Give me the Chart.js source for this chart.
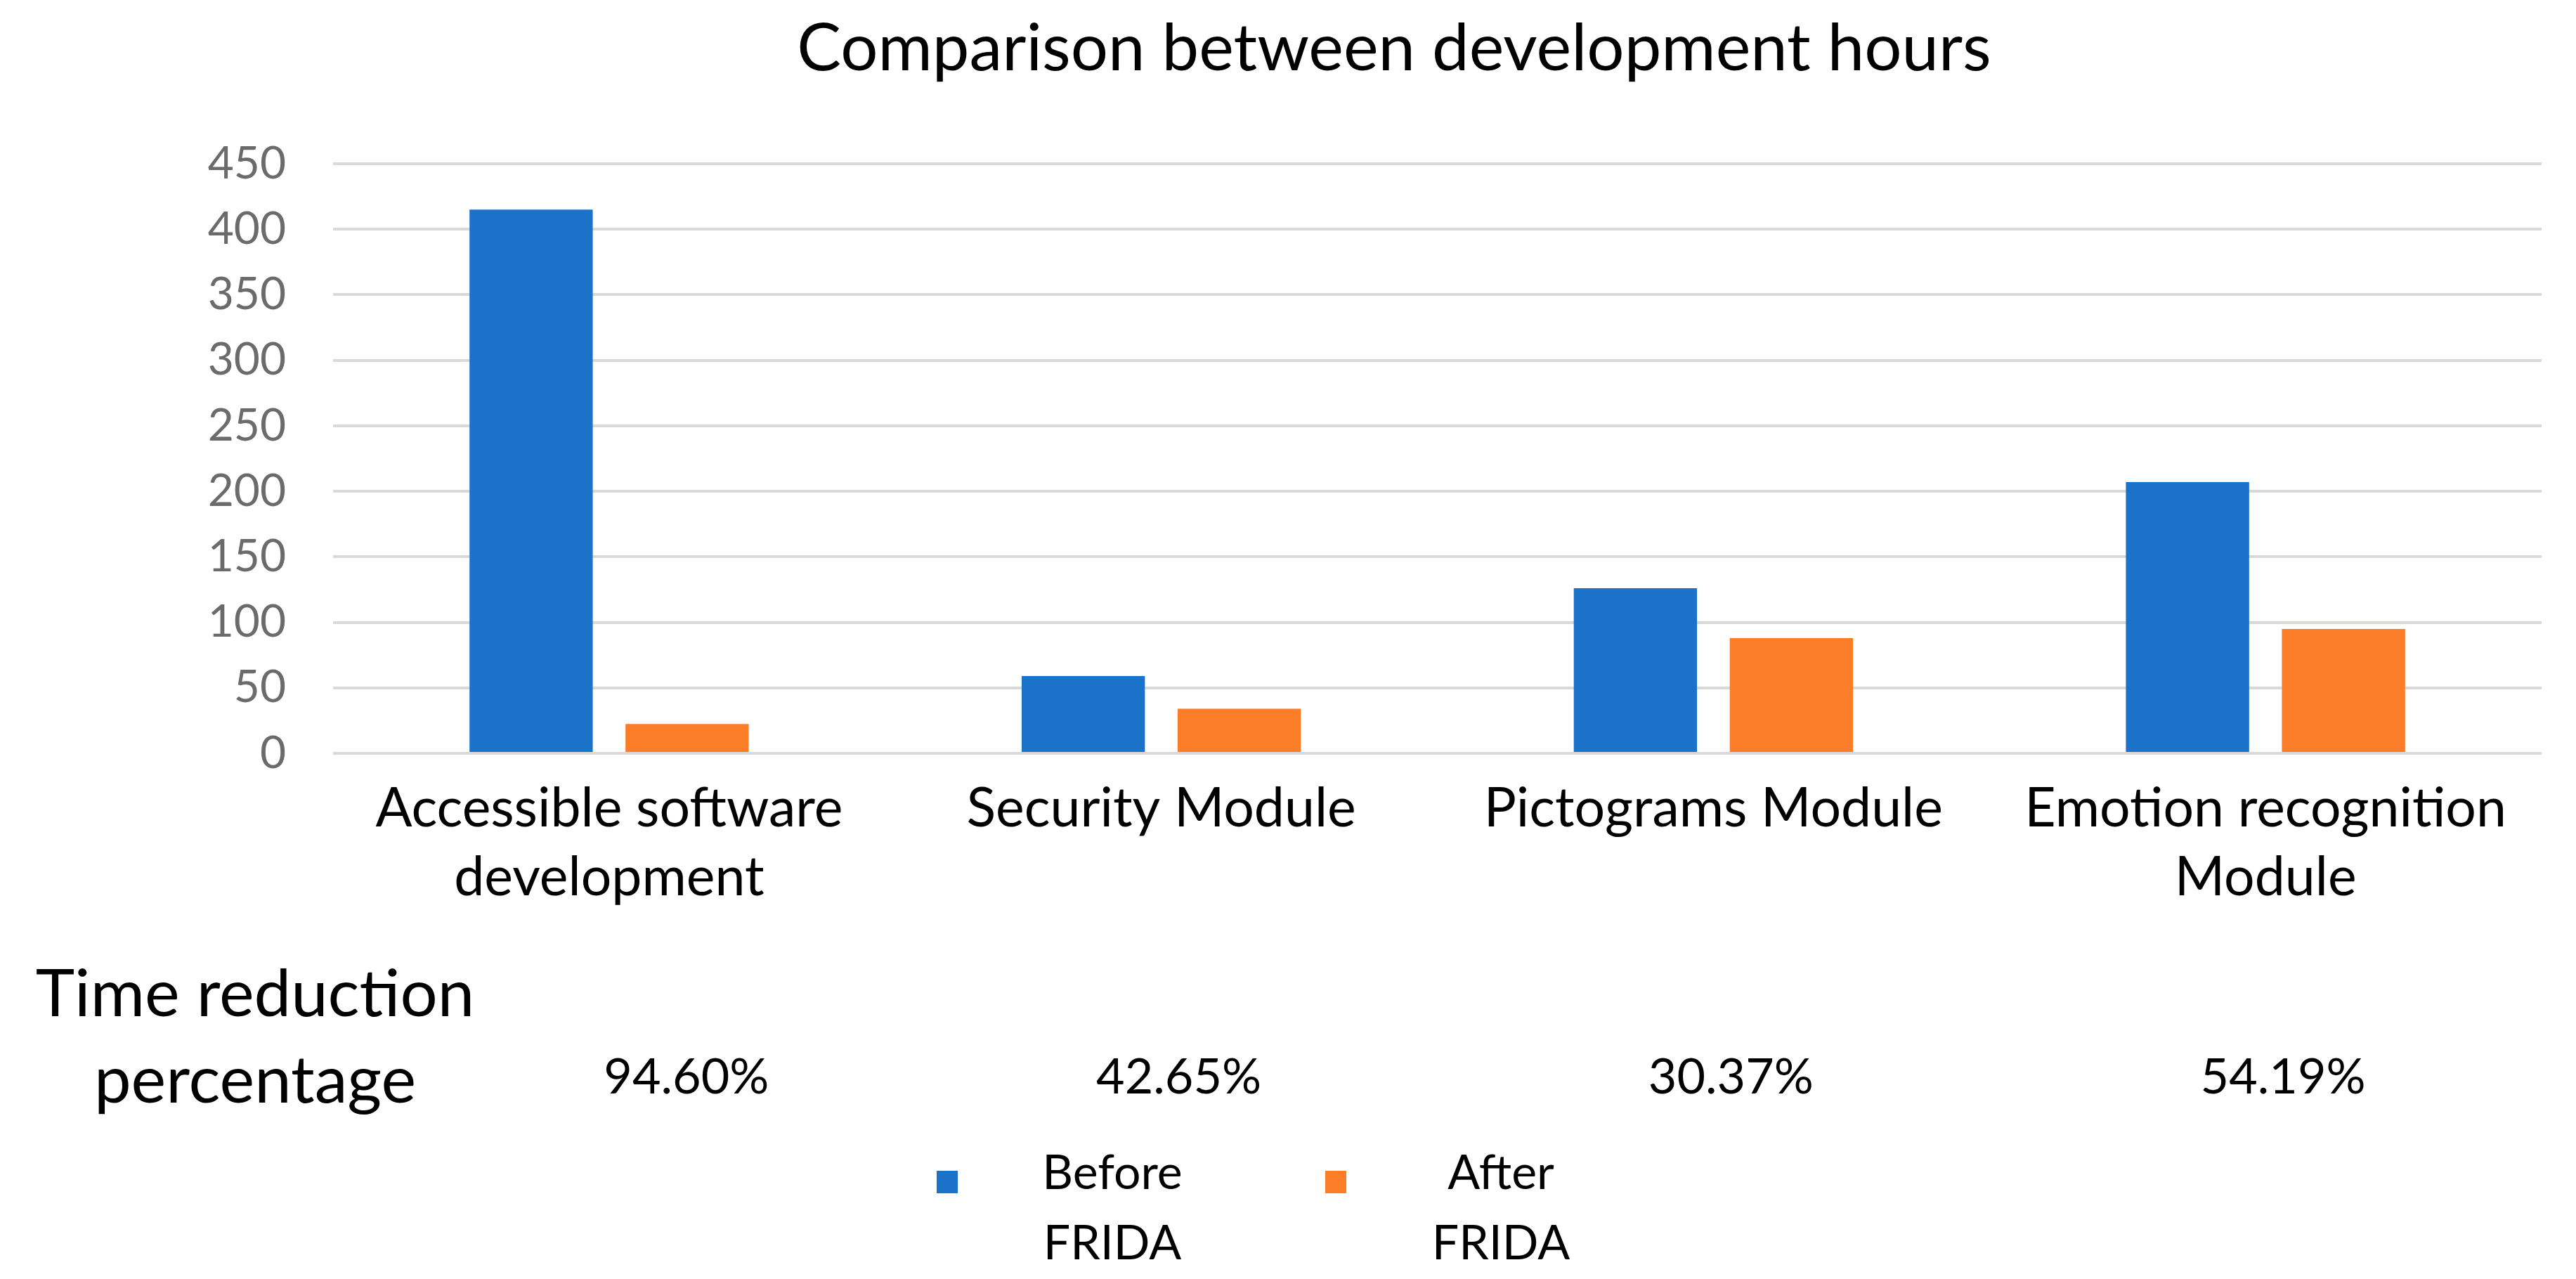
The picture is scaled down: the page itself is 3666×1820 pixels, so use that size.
<!DOCTYPE html>
<html>
<head>
<meta charset="utf-8">
<script src="https://cdn.jsdelivr.net/npm/chart.js@4.4.1/dist/chart.umd.min.js"></script>
<style>
  html, body { margin: 0; padding: 0; background: #fff; }
  #wrap { width: 3666px; height: 1820px; position: relative; }
</style>
</head>
<body>
<div id="wrap"><canvas id="horasChart"></canvas></div>
<script>
// datos del gráfico
const categorias = [
    ["Accessible software", "development"],
    "Security Module",
    "Pictograms Module",
    ["Emotion recognition", "Module"]
];
const horasAntes = [415, 59, 126, 207];     // Before FRIDA
const horasDespues = [22.4, 34, 88, 95];    // After FRIDA
const reduccion = ["94.60%", "42.65%", "30.37%", "54.19%"];
const etiquetasSeries = ["Before FRIDA", "After FRIDA"];
const coloresSeries = ["#1b72c9", "#fb7d27"];
const ticksY = [0, 50, 100, 150, 200, 250, 300, 350, 400, 450];

const titulo = "Comparison between development hours";
const tituloFila = ["Time reduction", "percentage"];

const FUENTE = "Lato, 'Open Sans', sans-serif";

// plugin para el título, la fila de porcentajes y la leyenda
const extras = {
    id: "extras",
    afterDraw(chart) {
        const ctx = chart.ctx;
        const x = chart.scales.x;
        ctx.save();
        ctx.fillStyle = "#000";
        ctx.textBaseline = "alphabetic";

        // título
        ctx.font = "94px " + FUENTE;
        ctx.textAlign = "center";
        ctx.fillText(titulo, 1984, 100);

        // fila "Time reduction percentage"
        ctx.font = "94px " + FUENTE;
        ctx.fillText(tituloFila[0], 363, 1446);
        ctx.fillText(tituloFila[1], 363, 1569);

        ctx.font = "70px " + FUENTE;
        reduccion.forEach((txt, i) => {
            ctx.fillText(txt, x.getPixelForValue(i) + (i === 0 ? 110 : 25), 1556);
        });

        // leyenda (texto en dos líneas)
        const leyendaX = [1333, 1886];
        ctx.font = "68px " + FUENTE;
        chart.data.datasets.forEach((ds, i) => {
            ctx.fillStyle = ds.backgroundColor;
            ctx.fillRect(leyendaX[i], 1666, 30, 32);
            ctx.fillStyle = "#000";
            const partes = ds.label.split(" ");
            const cx = leyendaX[i] + 250;
            ctx.fillText(partes[0], cx, 1692);
            ctx.fillText(partes[1], cx, 1792);
        });
        ctx.restore();
    }
};

const ctx = document.getElementById("horasChart").getContext("2d");
const horasChart = new Chart(ctx, {
    type: "bar",
    data: {
        labels: categorias,
        datasets: [
            { label: etiquetasSeries[0], data: horasAntes, backgroundColor: coloresSeries[0] },
            { label: etiquetasSeries[1], data: horasDespues, backgroundColor: coloresSeries[1] }
        ]
    },
    options: {
        responsive: true,
        maintainAspectRatio: false,
        animation: false,
        devicePixelRatio: 1,
        categoryPercentage: 0.565,
        barPercentage: 0.79,
        layout: { padding: { left: 0, right: 49, top: 233, bottom: 0 } },
        plugins: {
            legend: { display: false },
            title: { display: false },
            tooltip: { enabled: false }
        },
        scales: {
            x: {
                grid: { display: false, drawTicks: false },
                border: { display: false },
                ticks: {
                    color: "#000",
                    padding: 30,
                    font: { family: FUENTE, size: 77, lineHeight: 1.27 }
                },
                afterFit(scale) { scale.height = 1820 - 1072; }
            },
            y: {
                min: 0,
                max: 450,
                afterBuildTicks(scale) { scale.ticks = ticksY.map(v => ({ value: v })); },
                grid: { color: "#d9d9d9", lineWidth: 4, drawTicks: false },
                border: { display: false },
                ticks: {
                    color: "#6b6b6b",
                    padding: 67,
                    font: { family: FUENTE, size: 64 }
                },
                afterFit(scale) { scale.width = 474; }
            }
        }
    },
    plugins: [extras]
});
</script>
</body>
</html>
